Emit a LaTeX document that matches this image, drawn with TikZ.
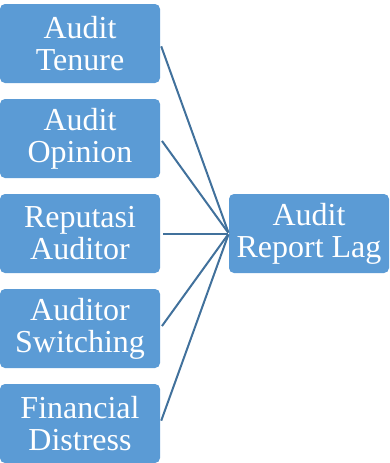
\documentclass[tikz,border=0pt]{standalone}
\usepackage{fontspec}
\setmainfont{Liberation Serif}
\usetikzlibrary{positioning}
\definecolor{boxblue}{HTML}{5B9BD5}
\definecolor{lineblue}{HTML}{41719C}

\begin{document}
\begin{tikzpicture}[x=1pt,y=-1pt,
  varbox/.style={fill=boxblue, text=white, rounded corners=5pt, minimum width=160pt,
    minimum height=79pt, align=center, inner sep=0pt,
    font=\rmfamily\fontsize{32}{32}\selectfont},
  link/.style={draw=lineblue, line width=2pt, shorten <=3pt, shorten >=1pt}]
\useasboundingbox (0,0) rectangle (389,463);
% left column
\node[varbox] (tenure) at (80,43.5) {Audit\\Tenure};
\node[varbox] (opinion) at (80,138.5) {Audit\\Opinion};
\node[varbox] (reputasi) at (80,233.5) {Reputasi\\Auditor};
\node[varbox] (switching) at (80,328.5) {Auditor\\Switching};
\node[varbox] (distress) at (80,423.5) {Financial\\Distress};
% right box
\node[varbox] (lag) at (309,233.5) {Audit\\Report Lag};
% connectors
\foreach \n in {tenure,opinion,reputasi,switching,distress}
  \draw[link] (\n.east) -- (lag.west);
\end{tikzpicture}
\end{document}
